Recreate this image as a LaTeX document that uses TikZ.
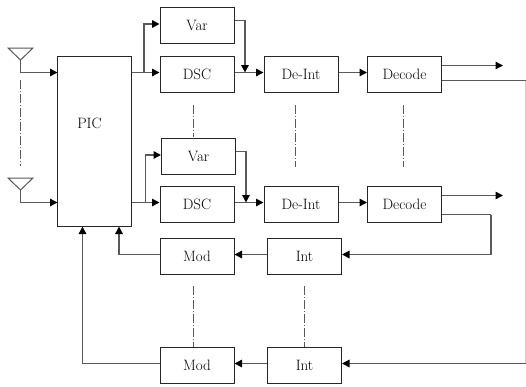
\documentclass[tikz,border=0pt]{standalone}
\usetikzlibrary{arrows.meta, calc}

\tikzset{
  blockbox/.style={draw=black!85, line width=1pt, minimum width=74pt, minimum height=36.5pt,
    inner sep=0pt, font=\fontsize{15}{16}\selectfont},
  wire/.style={draw=black!65, line width=1.4pt},
  feed/.style={wire, -{Triangle[length=7.5pt,width=7.5pt,black]}},
  gapline/.style={draw=black!65, line width=0.8pt, dash pattern=on 9pt off 2pt on 1pt off 2pt}
}

\begin{document}
\begin{tikzpicture}[x=1pt, y=-1pt]
  \useasboundingbox (0,0) rectangle (526,386);

  \foreach \name/\x/\y/\lab in {
    vara/197/25.5/Var, dsca/197/74.5/DSC, deinta/301/74.5/De-Int, decodea/404.5/74.5/Decode,
    varb/198.5/156.5/Var, dscb/197/204.5/DSC, deintb/301/204.5/De-Int, decodeb/404.5/204.5/Decode,
    moda/197/256.5/Mod, inta/304.5/256.5/Int, modb/197/365.5/Mod, intb/304.5/365.5/Int}
    \node[blockbox] (\name) at (\x,\y) {\lab};
  \node[blockbox, minimum width=73.5pt, minimum height=170.5pt] (pic) at (94.25,141.25) {};
  \node[font=\fontsize{15}{16}\selectfont] (piclab) at (89.5,123.5) {PIC};

  % antennas
  \coordinate (anta) at (20.5,60);
  \coordinate (antb) at (20.5,190);
  \foreach \ant in {anta,antb}
    \draw[wire, line width=1pt] (\ant) -- ++(-12.5,-12) -- ++(25,0) -- cycle;
  \draw[feed] (anta) |- (57.5,72.5);
  \draw[feed] (antb) |- (57.5,202.5);
  \draw[gapline] (20.5,80) -- (20.5,166);

  % forward paths
  \foreach \row/\yy/\bx/\mx/\vy in {a/72.5/144/245/20.5, b/202.5/145.5/246/151.5}
  {
    \coordinate (branch\row) at (\bx,\yy);
    \coordinate (merge\row) at (\mx,\yy);
    \draw[feed] (pic.east |- branch\row) -- (dsc\row.west |- branch\row);
    \draw[feed] (branch\row) |- ($(var\row.west)+(0,-1.5)$);
    \draw[feed] (var\row.east |- 0,\vy) -| (merge\row);
    \draw[feed] (dsc\row.east |- branch\row) -- (deint\row.west |- branch\row);
    \draw[feed] (deint\row.east |- branch\row) -- (decode\row.west |- branch\row);
  }
  \coordinate (outa) at (503,65.5);
  \coordinate (outb) at (503,195.5);
  \draw[feed] (decodea.east |- outa) -- (outa);
  \draw[feed] (decodeb.east |- outb) -- (outb);

  % feedback paths
  \coordinate (edge) at (525.5,80.5);
  \coordinate (edgelow) at (525.5,363.5);
  \coordinate (turn) at (491,214.5);
  \coordinate (rowa) at (491,254.5);
  \coordinate (rowb) at (160,363.5);
  \draw[wire] (decodea.east |- edge) -- (edge);
  \draw[wire, draw=black!20, line width=0.8pt] (edge) -- (edgelow);
  \draw[feed] (edgelow) -- (intb.east |- edgelow);
  \draw[wire] (decodeb.east |- turn) -- (turn);
  \draw[feed] (turn) -- (rowa) -- (inta.east |- rowa);
  \draw[feed] (inta.west |- rowa) -- (moda.east |- rowa);
  \draw[feed] (intb.west |- rowb) -- (modb.east |- rowb);
  \coordinate (backa) at (119,226.5);
  \coordinate (backb) at (82.5,226.5);
  \draw[feed] (moda.west |- rowa) -| (backa);
  \draw[feed] (modb.west |- rowb) -| (backb);

  % repeated rows
  \draw[gapline] (193.5,105) -- (193.5,137);
  \draw[gapline] (295,105) -- (295,167);
  \draw[gapline] (403.5,105) -- (403.5,167);
  \draw[gapline] (193.5,286) -- (193.5,347);
  \draw[gapline] (304.5,286) -- (304.5,347);
\end{tikzpicture}
\end{document}
